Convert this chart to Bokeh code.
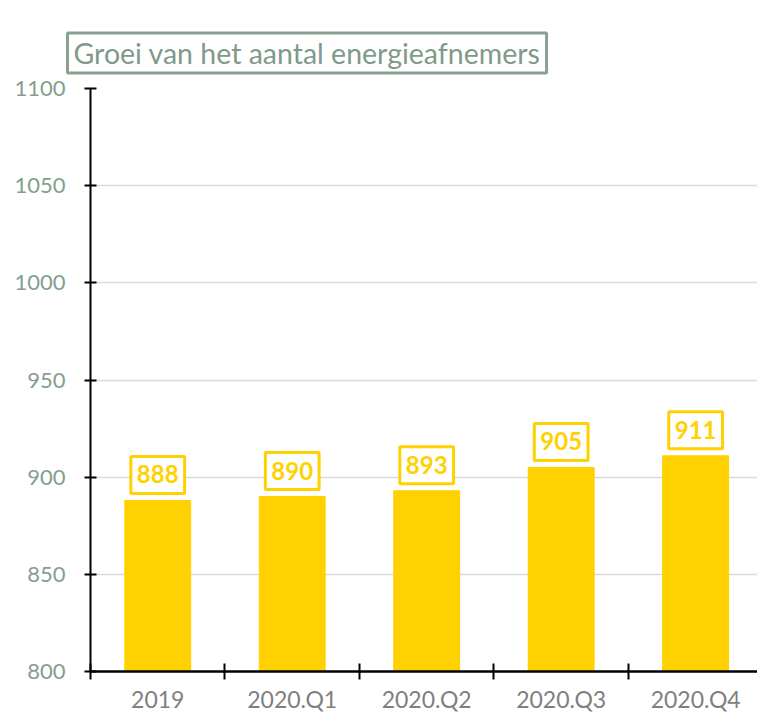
from bokeh.plotting import figure
from bokeh.models import (Range1d, FixedTicker, ColumnDataSource)
from bokeh.core.properties import value
from bokeh.embed import file_html
from bokeh.resources import INLINE

categories = ["2019", "2020.Q1", "2020.Q2", "2020.Q3", "2020.Q4"]
values = [888, 890, 893, 905, 911]
y_ticks = [800, 850, 900, 950, 1000, 1050, 1100]
title_text = "Groei van het aantal energieafnemers"

FONT = "Lato"
GOLD = "#FFD100"
GREEN_GRAY = "#849e8f"

xs = [i + 0.5 for i in range(len(categories))]
src = ColumnDataSource(dict(x=xs, top=values, label=[str(v) for v in values]))

p = figure(width=757, height=715, output_backend="svg", toolbar_location=None,
           x_range=Range1d(0, 4.96), y_range=Range1d(800, 1100),
           min_border_left=90, min_border_top=88, min_border_right=0,
           min_border_bottom=40)
p.outline_line_color = None
p.background_fill_color = "white"
p.border_fill_color = "white"

p.title.text = title_text
p.title.align = "left"
p.title.offset = -23
p.title.standoff = 31
p.title.text_font = FONT
p.title.text_font_size = "28.5px"
p.title.text_font_style = "normal"
p.title.text_color = "#7f9a8a"
p.title.background_fill_color = "white"
p.title.border_line_color = "#8aa192"
p.title.border_line_width = 3
p.title.padding = dict(left=6, right=6, top=3, bottom=3)

p.vbar(x="x", top="top", bottom=800, width=0.49, color=GOLD, source=src)

p.text(x="x", y="top", text="label", source=src,
       text_align="center", text_baseline="bottom", y_offset=-7,
       text_color=GOLD, text_font=value(FONT), text_font_size="24px",
       text_font_style="bold",
       background_fill_color="white", border_line_color=GOLD,
       border_line_width=3,
       padding=dict(left=6, right=6, top=9, bottom=10))

# x axis
xa = p.xaxis[0]
xa.ticker = FixedTicker(ticks=xs, minor_ticks=list(range(len(categories) + 1)))
xa.major_label_overrides = {x: c for x, c in zip(xs, categories)}
xa.major_tick_in = 0
xa.major_tick_out = 0
xa.minor_tick_in = 8
xa.minor_tick_out = 8
xa.minor_tick_line_color = "black"
xa.minor_tick_line_width = 2
xa.axis_line_color = "black"
xa.axis_line_width = 2.5
xa.major_label_text_font = FONT
xa.major_label_text_font_size = "23px"
xa.major_label_text_color = "#7f7f7f"
xa.major_label_standoff = 5

# y axis
ya = p.yaxis[0]
ya.ticker = FixedTicker(ticks=y_ticks, minor_ticks=[])
ya.major_tick_in = 6
ya.major_tick_out = 6
ya.major_tick_line_color = "black"
ya.major_tick_line_width = 2
ya.axis_line_color = "black"
ya.axis_line_width = 2
ya.major_label_text_font = FONT
ya.major_label_text_font_size = "22px"
ya.major_label_text_color = GREEN_GRAY
ya.major_label_standoff = 19

p.xgrid.grid_line_color = None
p.ygrid.grid_line_color = "#d9d9d9"
p.ygrid.grid_line_width = 1.5

open("out.html", "w").write(file_html(p, INLINE))
